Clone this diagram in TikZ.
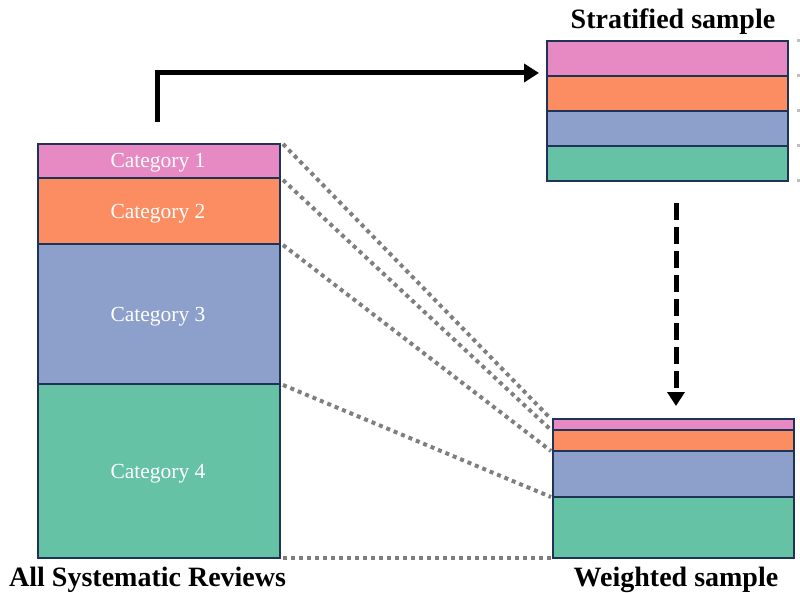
\documentclass[tikz,border=0pt]{standalone}
\usepackage{fontspec}
\setmainfont{Liberation Serif}
\usetikzlibrary{arrows.meta}
\definecolor{cpink}{HTML}{E78AC3}
\definecolor{corange}{HTML}{FC8D62}
\definecolor{cblue}{HTML}{8DA0CB}
\definecolor{cgreen}{HTML}{66C2A5}
\definecolor{navy}{HTML}{1F3356}
\definecolor{dotgray}{HTML}{7F7F7F}
\begin{document}
\begin{tikzpicture}[x=1pt,y=-1pt,
  seg/.style={draw=navy,line width=1.6pt},
  cattext/.style={text=white,font=\fontsize{21.5}{24}\selectfont},
  title/.style={font=\fontsize{28}{32}\selectfont\bfseries,inner sep=0pt},
  dotline/.style={draw=dotgray,line width=4pt,dash pattern=on 4pt off 4pt},
  bigarrow/.style={draw=black,line width=5pt,-{Triangle[length=15pt,width=18pt]}},
]
\useasboundingbox (0,0) rectangle (800,593);
% left column
\path[fill=cpink]   (38,144) rectangle (280,178);
\path[fill=corange] (38,178) rectangle (280,244);
\path[fill=cblue]   (38,244) rectangle (280,384);
\path[fill=cgreen]  (38,384) rectangle (280,558);
\draw[seg] (38,144) rectangle (280,558);
\draw[seg] (38,178) -- (280,178);
\draw[seg] (38,244) -- (280,244);
\draw[seg] (38,384) -- (280,384);
\node[cattext] (c1) at (158,163) {Category 1};
\node[cattext] (c2) at (158,214) {Category 2};
\node[cattext] (c3) at (158,317) {Category 3};
\node[cattext] (c4) at (158,474) {Category 4};
\coordinate (L1) at (283,144);
\coordinate (L2) at (283,180);
\coordinate (L3) at (283,245);
\coordinate (L4) at (283,385);
\coordinate (L5) at (283,558);
% stratified sample
\path[fill=cpink]   (547,41) rectangle (788,76);
\path[fill=corange] (547,76) rectangle (788,111);
\path[fill=cblue]   (547,111) rectangle (788,146);
\path[fill=cgreen]  (547,146) rectangle (788,181);
\draw[seg] (547,41) rectangle (788,181);
\draw[seg] (547,76) -- (788,76);
\draw[seg] (547,111) -- (788,111);
\draw[seg] (547,146) -- (788,146);
\node[title] (st) at (673,22) {Stratified sample};
% weighted sample
\path[fill=cpink]   (553,419) rectangle (794,430);
\path[fill=corange] (553,430) rectangle (794,451);
\path[fill=cblue]   (553,451) rectangle (794,497);
\path[fill=cgreen]  (553,497) rectangle (794,558);
\draw[seg] (553,419) rectangle (794,558);
\draw[seg] (553,430) -- (794,430);
\draw[seg] (553,451) -- (794,451);
\draw[seg] (553,497) -- (794,497);
\node[title] (wt) at (676,580) {Weighted sample};
\node[title,anchor=west] (all) at (9,580) {All Systematic Reviews};
\coordinate (R1) at (551,419);
\coordinate (R2) at (551,430);
\coordinate (R3) at (551,451);
\coordinate (R4) at (551,497);
\coordinate (R5) at (551,558);
% dotted connectors
\draw[dotline] (L1) -- (R1);
\draw[dotline] (L2) -- (R2);
\draw[dotline] (L3) -- (R3);
\draw[dotline] (L4) -- (R4);
\draw[dotline] (L5) -- (R5);
% cropped dotted stubs at right edge
\foreach \yy in {41,76,111,146,181}{
  \fill[dotgray!50] (797,\yy-1.5) rectangle (800,\yy+1.5);
}
% arrows
\coordinate (a0) at (157,122);
\coordinate (a1) at (157,73);
\coordinate (a2) at (539,73);
\draw[bigarrow] (a0) -- (a1) -- (a2);
\coordinate (d0) at (676,203);
\coordinate (d1) at (676,406);
\draw[draw=black,line width=5pt,dash pattern=on 17pt off 7pt,-{Triangle[length=14pt,width=17pt]}] (d0) -- (d1);
\end{tikzpicture}
\end{document}
